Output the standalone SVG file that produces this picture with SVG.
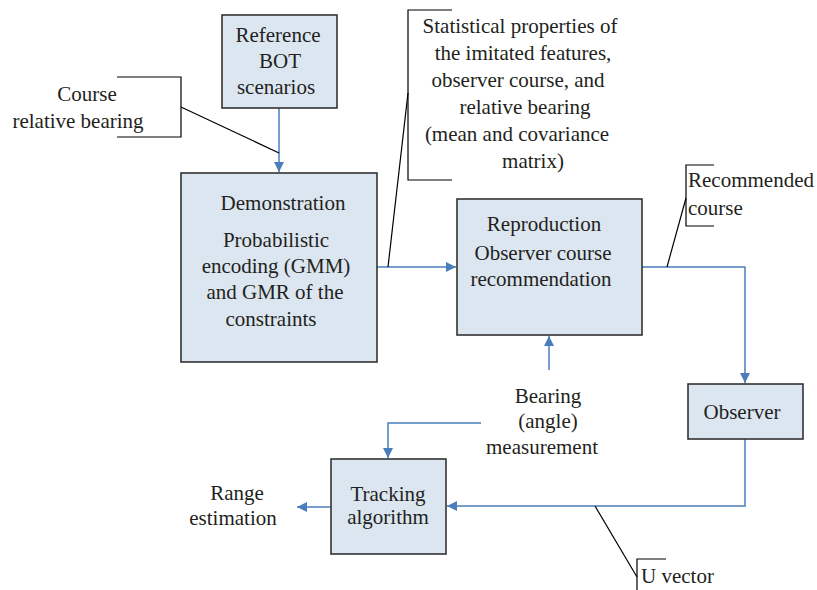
<svg xmlns="http://www.w3.org/2000/svg" width="817" height="590" viewBox="0 0 817 590">
<defs>
<marker id="ah" markerWidth="10" markerHeight="10" viewBox="0 0 10 10" refX="10" refY="5" orient="auto" markerUnits="userSpaceOnUse">
<path d="M0,0 L10,5 L0,10 z" fill="#4a7ebb"/>
</marker>
</defs>
<rect width="817" height="590" fill="#fff"/>

<g id="connectors" fill="none" stroke="#4a7ebb" stroke-width="1.5">
<path d="M279,108 V172" marker-end="url(#ah)"/>
<path d="M377,267 H456" marker-end="url(#ah)"/>
<path d="M642,267 H745 V383" marker-end="url(#ah)"/>
<path d="M549,370 V336" marker-end="url(#ah)"/>
<path d="M481,423 H388 V458" marker-end="url(#ah)"/>
<path d="M745,439 V506 H447" marker-end="url(#ah)"/>
<path d="M331,507 H297" marker-end="url(#ah)"/>
</g>

<g font-family="Liberation Serif" font-size="21" fill="#231f20">
<g id="ref-bot" text-anchor="middle">
<rect x="222" y="15" width="115" height="93" fill="#dce6f1" stroke="#333" stroke-width="1.6"/>
<text x="278" y="42">Reference</text>
<text x="280" y="68">BOT</text>
<text x="276" y="94">scenarios</text>
</g>

<g id="course-label" text-anchor="middle">
<path d="M117,77 H181 V137 H117" fill="none" stroke="#000" stroke-width="1.2"/>
<path d="M181,107 L279,153" fill="none" stroke="#000" stroke-width="1.2"/>
<text x="87" y="101">Course</text>
<text x="78" y="128">relative bearing</text>
</g>

<g id="demonstration" text-anchor="middle">
<rect x="181" y="173" width="196" height="189" fill="#dce6f1" stroke="#333" stroke-width="1.6"/>
<text x="283" y="210">Demonstration</text>
<text x="276" y="247">Probabilistic</text>
<text x="276" y="273">encoding (GMM)</text>
<text x="275" y="299">and GMR of the</text>
<text x="271" y="326">constraints</text>
</g>

<g id="stats-label" text-anchor="middle">
<path d="M452,10 H408 V180 H452" fill="none" stroke="#000" stroke-width="1.2"/>
<path d="M388,267 L408,93" fill="none" stroke="#000" stroke-width="1.2"/>
<text x="520" y="33">Statistical properties of</text>
<text x="523" y="60">the imitated features,</text>
<text x="518" y="87">observer course, and</text>
<text x="525" y="114">relative bearing</text>
<text x="517" y="141">(mean and covariance</text>
<text x="533" y="168">matrix)</text>
</g>

<g id="reproduction" text-anchor="middle">
<rect x="457" y="199" width="185" height="136" fill="#dce6f1" stroke="#333" stroke-width="1.6"/>
<text x="544" y="231">Reproduction</text>
<text x="543" y="260">Observer course</text>
<text x="541" y="286">recommendation</text>
</g>

<g id="recommended-label">
<path d="M714,165 H686 V226 H714" fill="none" stroke="#000" stroke-width="1.2"/>
<path d="M667,267 L686,198" fill="none" stroke="#000" stroke-width="1.2"/>
<text x="688" y="187">Recommended</text>
<text x="688" y="215">course</text>
</g>

<g id="observer" text-anchor="middle">
<rect x="688" y="384" width="115" height="55" fill="#dce6f1" stroke="#333" stroke-width="1.6"/>
<text x="742" y="419">Observer</text>
</g>

<g id="bearing-label" text-anchor="middle">
<text x="548" y="403">Bearing</text>
<text x="548" y="428">(angle)</text>
<text x="542" y="454">measurement</text>
</g>

<g id="tracking" text-anchor="middle">
<rect x="331" y="459" width="115" height="95" fill="#dce6f1" stroke="#333" stroke-width="1.6"/>
<text x="388" y="501">Tracking</text>
<text x="388" y="524">algorithm</text>
</g>

<g id="range-label" text-anchor="middle">
<text x="237" y="500">Range</text>
<text x="233" y="525">estimation</text>
</g>

<g id="uvector-label">
<path d="M666,559 H637 V590" fill="none" stroke="#000" stroke-width="1.2"/>
<path d="M595,506 L637,577" fill="none" stroke="#000" stroke-width="1.2"/>
<text x="641" y="583">U vector</text>
</g>
</g>
</svg>
